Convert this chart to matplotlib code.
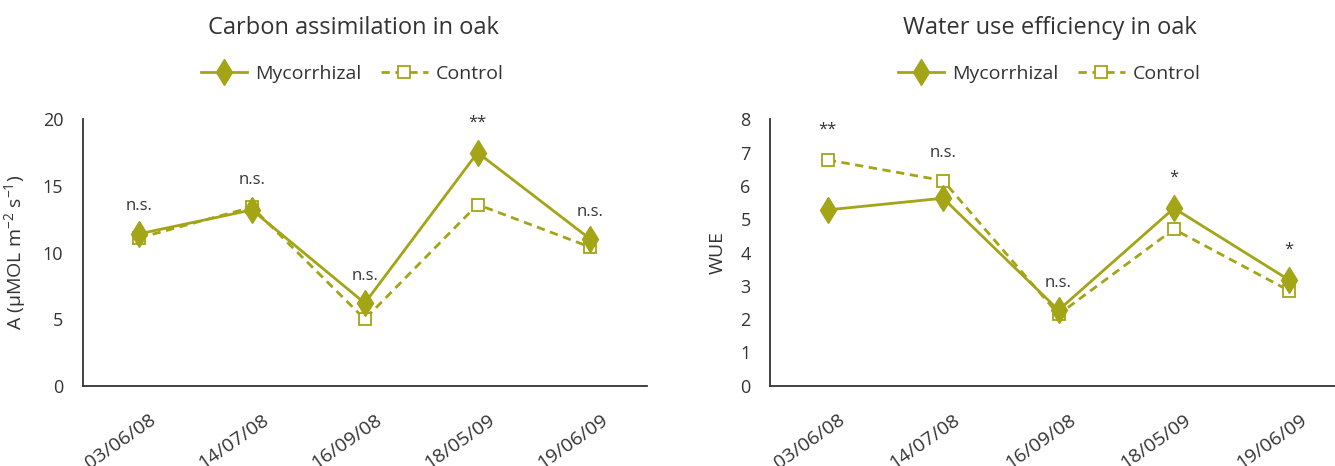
import matplotlib
matplotlib.use("Agg")
import matplotlib.pyplot as plt
import matplotlib.transforms as mtransforms
from matplotlib.lines import Line2D

plt.rcParams['font.family'] = ['Open Sans', 'DejaVu Sans']
plt.rcParams['text.color'] = '#333333'
plt.rcParams['axes.labelcolor'] = '#333333'
plt.rcParams['xtick.color'] = '#333333'
plt.rcParams['ytick.color'] = '#333333'

dates = ['03/06/08', '14/07/08', '16/09/08', '18/05/09', '19/06/09']

# carbon assimilation (A)
a_myco = [11.4, 13.2, 6.2, 17.5, 11.0]
a_ctrl = [11.1, 13.4, 5.0, 13.6, 10.4]
a_sig = ['n.s.', 'n.s.', 'n.s.', '**', 'n.s.']

# water use efficiency
wue_myco = [5.28, 5.63, 2.27, 5.33, 3.17]
wue_ctrl = [6.78, 6.16, 2.14, 4.70, 2.85]
wue_sig = ['**', 'n.s.', 'n.s.', '*', '*']

olive = '#a3a516'
dark = '#333333'

fig = plt.figure(figsize=(13.35, 4.66), dpi=100)
ax1 = fig.add_axes([0.062, 0.1723, 0.4225, 0.5717])
ax2 = fig.add_axes([0.5768, 0.1723, 0.4322, 0.5717])


def draw(ax, myco, ctrl, sig, ymax, yticks, ylabel):
    x = list(range(len(dates)))
    ax.plot(x, myco, color=olive, lw=2.0, marker='d', ms=13,
            mfc=olive, mec=olive, label='Mycorrhizal', zorder=3)
    ax.plot(x, ctrl, color=olive, lw=2.0, ls=(0, (3, 2)), marker='s', ms=9,
            mfc='white', mec=olive, mew=1.3, label='Control', zorder=2)
    for i, s in enumerate(sig):
        top = max(myco[i], ctrl[i])
        off = 19 if '*' in s else 17
        ax.annotate(s, (i, top), xytext=(0, off), textcoords='offset points',
                    ha='center', va='baseline', fontsize=12, color=dark)
    ax.set_xlim(-0.5, len(dates) - 0.5)
    ax.set_ylim(0, ymax)
    ax.set_yticks(yticks)
    ax.set_xticks(x)
    ax.set_xticklabels(dates, rotation=35, ha='right', rotation_mode='anchor',
                       fontsize=14)
    ax.tick_params(axis='both', length=0, labelsize=13)
    ax.tick_params(axis='x', pad=18, labelsize=14)
    ax.tick_params(axis='y', pad=14)
    # nudge the rotated labels a little to the right, like the original
    shift = mtransforms.ScaledTranslation(0.1, 0, fig.dpi_scale_trans)
    for lab in ax.get_xticklabels():
        lab.set_transform(lab.get_transform() + shift)
    for sp in ['top', 'right']:
        ax.spines[sp].set_visible(False)
    for sp in ['left', 'bottom']:
        ax.spines[sp].set_color('#333333')
        ax.spines[sp].set_linewidth(1.3)
    ax.set_ylabel(ylabel, fontsize=14, labelpad=10)


draw(ax1, a_myco, a_ctrl, a_sig, 20, [0, 5, 10, 15, 20],
     r'A (µMOL m$^{\mathregular{-2}}$ s$^{\mathregular{-1}}$)')
draw(ax2, wue_myco, wue_ctrl, wue_sig, 8, range(0, 9), 'WUE')
ax2.spines['bottom'].set_clip_on(False)

fig.text(353 / 1335, 1 - 28 / 466, 'Carbon assimilation in oak',
         ha='center', va='center', fontsize=17, color=dark)
fig.text(1050 / 1335, 1 - 28 / 466, 'Water use efficiency in oak',
         ha='center', va='center', fontsize=17, color=dark)

handles = [
    Line2D([], [], color=olive, lw=2.0, marker='d', ms=13, mfc=olive, mec=olive),
    Line2D([], [], color=olive, lw=2.0, ls=(0, (3, 2)), marker='s', ms=9,
           mfc='white', mec=olive, mew=1.3),
]
for cx in [352 / 1335, 1049 / 1335]:
    fig.legend(handles, ['Mycorrhizal', 'Control'], loc='center',
               bbox_to_anchor=(cx, 1 - 74 / 466), ncol=2, frameon=False,
               fontsize=14, handlelength=2.4, columnspacing=1.0,
               handletextpad=0.4)

fig.savefig('out.png', dpi=100)
